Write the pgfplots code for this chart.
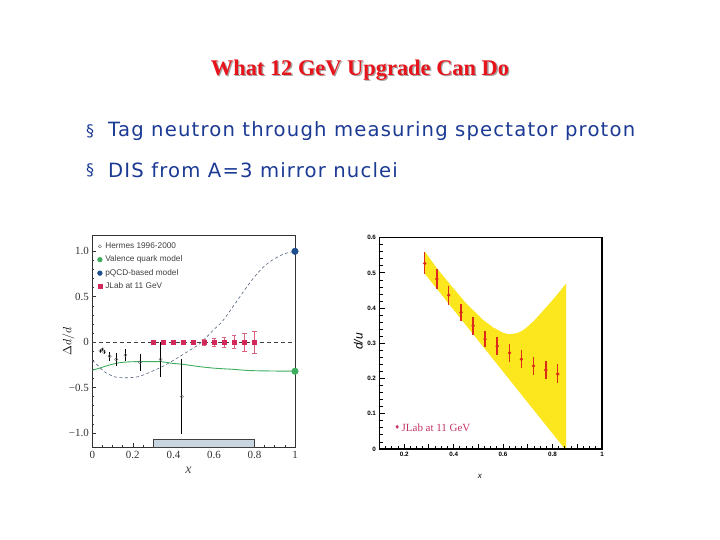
\documentclass[border=0pt]{standalone}
\usepackage{fontspec}
\setmainfont{Liberation Serif}
\setsansfont{Liberation Sans}
\newfontfamily\bulletfont[LetterSpace=6]{DejaVu Sans}
\newfontfamily\symfont{DejaVu Sans}
\usepackage{pgfplots}
\pgfplotsset{compat=1.18}

\definecolor{titlered}{HTML}{E8141C}
\definecolor{bulletblue}{HTML}{1B3A94}
\definecolor{valgreen}{HTML}{3DAE5E}
\definecolor{pqcdblue}{HTML}{1F4E8E}
\definecolor{jlabred}{HTML}{D2285A}
\definecolor{jlaberr}{HTML}{D9637F}
\definecolor{dashblue}{HTML}{55657F}
\definecolor{boxfill}{HTML}{C9D5DF}
\definecolor{bandyellow}{HTML}{FCE61E}
\definecolor{ptred}{HTML}{DD2A1A}
\definecolor{legred}{HTML}{C43466}

\begin{document}
\begin{tikzpicture}
\fill[white] (0bp,0bp) rectangle (720bp,540bp);

% slide text
\node[text=black!35, font=\bfseries\fontsize{22.5}{26}\selectfont] at (361.3bp,468.7bp) {What 12 GeV Upgrade Can Do};
\node[text=titlered, font=\bfseries\fontsize{22.5}{26}\selectfont] at (360bp,470bp) {What 12 GeV Upgrade Can Do};
\node[text=bulletblue, font=\symfont\fontsize{16}{18}\selectfont] at (90bp,409bp) {§};
\node[text=bulletblue, font=\symfont\fontsize{16}{18}\selectfont] at (90bp,370bp) {§};
\node[anchor=west, inner sep=0pt, text=bulletblue, font=\bulletfont\fontsize{19.7}{22}\selectfont] at (108bp,409bp) {Tag neutron through measuring spectator proton};
\node[anchor=west, inner sep=0pt, text=bulletblue, font=\bulletfont\fontsize{19.7}{22}\selectfont] at (108bp,370bp) {DIS from A=3 mirror nuclei};

% left panel: Delta d / d
\begin{axis}[
  at={(92.3bp,92.5bp)}, anchor=south west, scale only axis,
  width=202.7bp, height=212.5bp,
  xmin=0, xmax=1, ymin=-1.16, ymax=1.18,
  clip=false,
  xtick={0,0.2,0.4,0.6,0.8,1}, xticklabels={0,0.2,0.4,0.6,0.8,1},
  ytick={-1,-0.5,0,0.5,1}, yticklabels={−1.0,−0.5,0,0.5,1.0},
  minor x tick num=3, minor y tick num=4,
  tick align=inside, xtick pos=bottom, ytick pos=left,
  major tick length=4bp, minor tick length=2bp,
  axis line style={draw=black!80, line width=0.8bp},
  every tick/.style={black!80, line width=0.5bp},
  tick label style={font=\fontsize{11}{12}\selectfont, text=black!80},
  xlabel={\textit{x}}, ylabel={$\Delta d/d$},
  x label style={at={(axis description cs:0.474,-0.106)}, anchor=center, font=\fontsize{14}{14}\selectfont, text=black!70},
  y label style={at={(axis description cs:-0.118,0.5)}, anchor=center, font=\fontsize{13}{13}\selectfont},
  legend style={at={(axis description cs:0.01,0.978)}, anchor=north west, draw=none, fill=none,
    font=\sffamily\fontsize{8.3}{9}\selectfont, text=black!75, row sep=4.4bp,
    nodes={inner sep=0.8bp},
    /tikz/every odd column/.append style={column sep=2.2bp}},
  legend cell align=left,
  legend image code/.code={\draw[#1] plot coordinates {(0cm,0cm)};},
]
\addlegendimage{only marks, mark=o, mark size=1.6bp, draw=black!60, fill=white}
\addlegendentry{Hermes 1996-2000}
\addlegendimage{only marks, mark=*, mark size=2.4bp, valgreen}
\addlegendentry{Valence quark model}
\addlegendimage{only marks, mark=*, mark size=2.4bp, pqcdblue}
\addlegendentry{pQCD-based model}
\addlegendimage{only marks, mark=square*, mark size=2bp, jlabred}
\addlegendentry{JLab at 11 GeV}

% acceptance box
\addplot[forget plot, fill=boxfill, draw=black!75, line width=0.8bp]
  coordinates {(0.3,-1.16) (0.3,-1.074) (0.8,-1.074) (0.8,-1.16)} -- cycle;

% zero line
\addplot[forget plot, black!75, line width=1bp, dash pattern=on 4bp off 3bp]
  coordinates {(0,0) (1,0)};

% pQCD-based model
\addplot[forget plot, dashblue, line width=0.6bp, dash pattern=on 3bp off 2.5bp, smooth, tension=0.5]
  coordinates {(0,-0.2) (0.02,-0.24) (0.06,-0.326) (0.11,-0.381) (0.16,-0.392) (0.225,-0.381)
  (0.285,-0.33) (0.35,-0.264) (0.416,-0.179) (0.482,-0.088) (0.531,-0.015) (0.597,0.132)
  (0.646,0.242) (0.70,0.41) (0.75,0.57) (0.80,0.72) (0.85,0.84) (0.90,0.92) (0.95,0.975) (1,1.0)};

% valence quark model
\addplot[forget plot, valgreen, line width=0.9bp, smooth, tension=0.5]
  coordinates {(0,-0.31) (0.03,-0.29) (0.08,-0.255) (0.13,-0.228) (0.19,-0.216) (0.26,-0.215)
  (0.34,-0.215) (0.39,-0.232) (0.45,-0.245) (0.53,-0.27) (0.61,-0.288) (0.70,-0.30)
  (0.78,-0.313) (0.9,-0.318) (1,-0.32)};

% Hermes data
\addplot[forget plot, only marks, mark=o, mark size=1.6bp, mark options={draw=black!60, fill=white},
  error bars/.cd, y dir=both, y explicit, error mark=none,
  error bar style={black, line width=0.8bp}]
  coordinates {(0.04,-0.096) +- (0,0.02) (0.05,-0.08) +- (0,0.02) (0.058,-0.11) +- (0,0.02)
  (0.086,-0.154) +- (0,0.05) (0.118,-0.19) +- (0,0.07) (0.163,-0.143) +- (0,0.07)
  (0.235,-0.223) +- (0,0.097) (0.337,-0.19) +- (0,0.19) (0.442,-0.60) +- (0,0.41)};

% JLab projections
\addplot[forget plot, only marks, mark=square*, mark size=2bp, jlabred,
  error bars/.cd, y dir=both, y explicit,
  error mark options={rotate=90, mark size=2.2bp, jlaberr, line width=0.6bp},
  error bar style={jlaberr, line width=0.7bp}]
  coordinates {(0.3,0) +- (0,0.01) (0.35,0) +- (0,0.01) (0.4,0) +- (0,0.01) (0.45,0) +- (0,0.01)
  (0.5,0) +- (0,0.015) (0.55,0) +- (0,0.03) (0.6,0) +- (0,0.046) (0.65,0) +- (0,0.058)
  (0.7,0) +- (0,0.073) (0.75,0) +- (0,0.097) (0.8,0) +- (0,0.119)};

% model end points
\addplot[forget plot, only marks, mark=*, mark size=3.3bp, valgreen] coordinates {(1,-0.32)};
\addplot[forget plot, only marks, mark=*, mark size=3.3bp, pqcdblue] coordinates {(1,1)};
\end{axis}

% right panel: d/u
\begin{axis}[
  at={(379.5bp,91bp)}, anchor=south west, scale only axis,
  width=222.5bp, height=211.3bp,
  xmin=0.1, xmax=1, ymin=0, ymax=0.6,
  axis on top,
  xtick={0.1,0.2,0.3,0.4,0.5,0.6,0.7,0.8,0.9,1}, xticklabels={,0.2,,0.4,,0.6,,0.8,,1},
  ytick={0,0.1,0.2,0.3,0.4,0.5,0.6}, yticklabels={0,0.1,0.2,0.3,0.4,0.5,0.6},
  minor x tick num=3, minor y tick num=4,
  tick align=inside, xtick pos=bottom, ytick pos=left,
  major tick length=5bp, minor tick length=3bp,
  axis line style={line width=1.3bp},
  every tick/.style={black, line width=0.9bp},
  tick label style={font=\sffamily\bfseries\fontsize{6.3}{7}\selectfont},
  xlabel={\textit{x}}, ylabel={\textit{d/u}},
  x label style={at={(axis description cs:0.452,-0.128)}, anchor=center, font=\sffamily\fontsize{8}{8}\selectfont},
  y label style={at={(axis description cs:-0.095,0.508)}, anchor=center, font=\sffamily\fontsize{12}{12}\selectfont},
]
% allowed band
\addplot[fill=bandyellow, draw=none]
  coordinates {(0.284,0.56) (0.33,0.515) (0.385,0.468) (0.45,0.414) (0.52,0.366) (0.56,0.345)
  (0.60,0.330) (0.62,0.326) (0.64,0.327) (0.66,0.330) (0.68,0.337) (0.70,0.348) (0.73,0.368)
  (0.76,0.391) (0.80,0.423) (0.83,0.448) (0.855,0.47)
  (0.855,0) (0.85,0) (0.284,0.497)} -- cycle;

% JLab at 11 GeV
\addplot[only marks, mark=*, mark size=1.5bp, ptred,
  error bars/.cd, y dir=both, y explicit, error mark=none,
  error bar style={ptred, line width=1.4bp}]
  coordinates {(0.283,0.527) +- (0,0.031) (0.332,0.483) +- (0,0.029) (0.380,0.437) +- (0,0.027)
  (0.430,0.388) +- (0,0.025) (0.479,0.350) +- (0,0.025) (0.527,0.312) +- (0,0.023)
  (0.576,0.292) +- (0,0.025) (0.626,0.273) +- (0,0.026) (0.674,0.255) +- (0,0.026)
  (0.723,0.236) +- (0,0.025) (0.773,0.224) +- (0,0.026) (0.821,0.213) +- (0,0.027)};

\node[text=legred, font=\symfont\fontsize{6}{6}\selectfont] at (axis cs:0.172,0.061) {♦};
\node[anchor=west, inner sep=0pt, text=legred, font=\fontsize{11}{11}\selectfont] at (axis cs:0.189,0.061) {JLab at 11 GeV};
\end{axis}
\end{tikzpicture}
\end{document}
